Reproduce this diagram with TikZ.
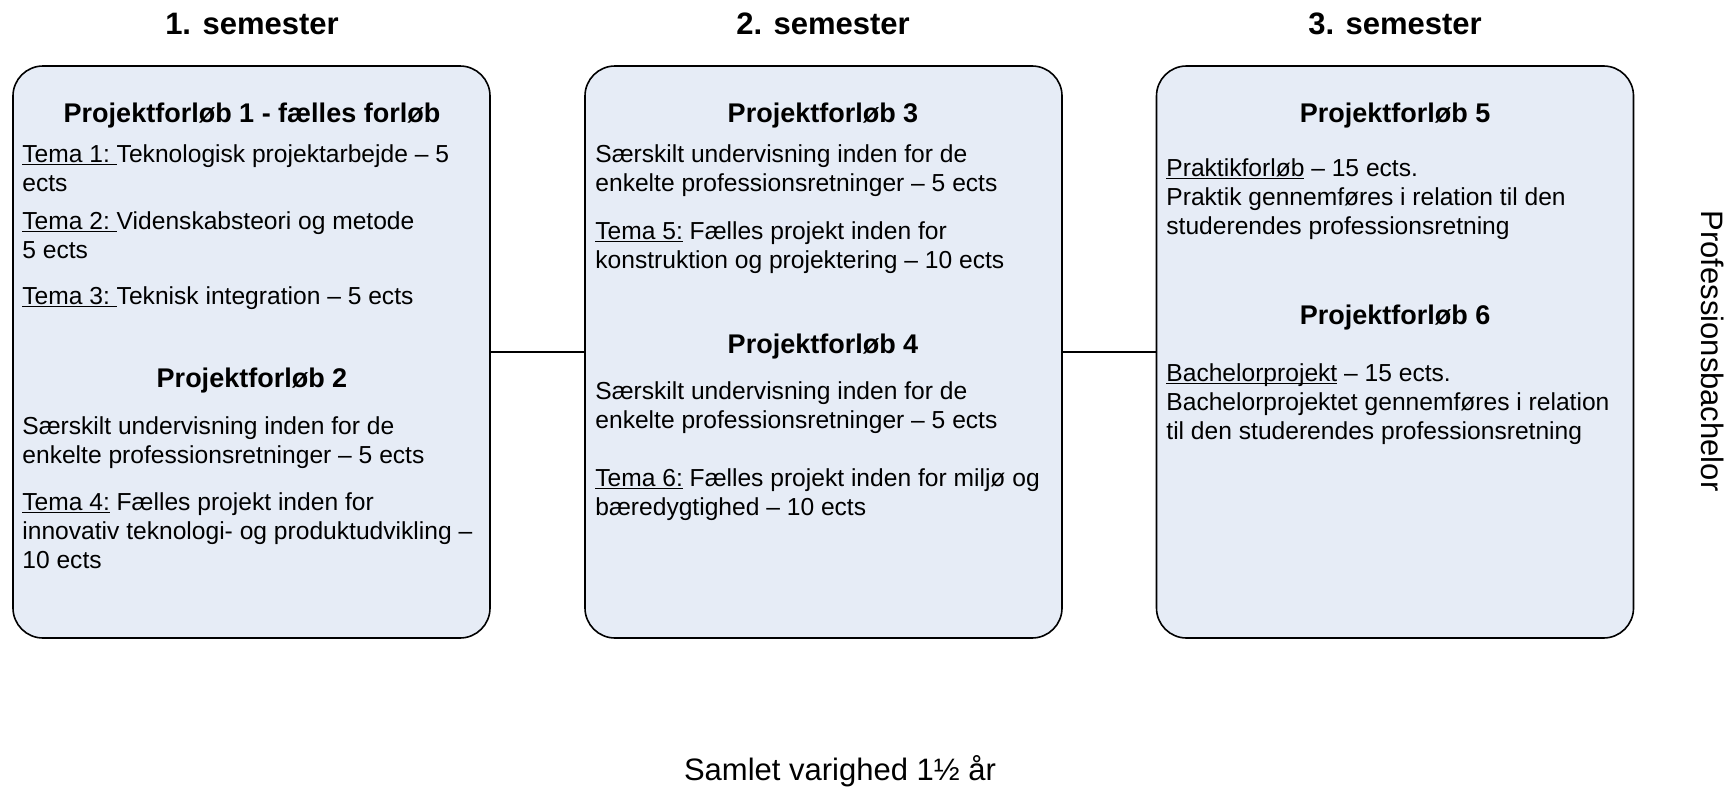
\documentclass[tikz,border=0pt]{standalone}
\usepackage{fontspec}
\setmainfont{Liberation Sans}
\definecolor{boksblaa}{HTML}{E6ECF6}
\newcommand{\understreg}[1]{\setbox0\hbox{#1}\rlap{\rule[-1.6pt]{\wd0}{0.55pt}}\box0\relax}

\begin{document}
\begin{tikzpicture}[x=0.5pt,y=-0.5pt,
    boks/.style={draw=black, line width=0.8pt, fill=boksblaa, rounded corners=15pt,
        minimum width=238.5pt, minimum height=286pt, inner sep=0pt},
    semester/.style={font=\fontsize{15.5}{18}\selectfont\bfseries, anchor=base},
    forloeb/.style={font=\fontsize{13.5}{16}\selectfont\bfseries, anchor=base},
    tekst/.style={font=\fontsize{12.3}{14.5}\selectfont, anchor=base west, align=left, inner sep=0pt},
    stor/.style={font=\fontsize{15.5}{18}\selectfont}]

\useasboundingbox (0,0) rectangle (1733,787);

%semestre

\node[semester] (sem1) at (252,34) {1. semester};
\node[semester] (sem2) at (823,34) {2. semester};
\node[semester] (sem3) at (1395,34) {3. semester};

%bokse og forbindelser

\node[boks] (boks1) at (251.5,352) {};
\node[boks] (boks2) at (823.5,352) {};
\node[boks] (boks3) at (1395,352) {};
\draw[line width=0.8pt] (boks1.east)--(boks2.west);
\draw[line width=0.8pt] (boks2.east)--(boks3.west);

%1. semester (y = sidste linjes grundlinje)

\node[forloeb] (pf1) at (252,122) {Projektforløb 1 - fælles forløb};
\node[tekst] (tema1) at (22,191) {\understreg{Tema 1:\ }Teknologisk projektarbejde – 5\\ects};
\node[tekst] (tema2) at (22,258) {\understreg{Tema 2:\ }Videnskabsteori og metode\\5 ects};
\node[tekst] (tema3) at (22,304) {\understreg{Tema 3:\ }Teknisk integration – 5 ects};
\node[forloeb] (pf2) at (252,387) {Projektforløb 2};
\node[tekst] (saer2) at (22,463) {Særskilt undervisning inden for de\\enkelte professionsretninger – 5 ects};
\node[tekst] (tema4) at (22,568) {\understreg{Tema 4:} Fælles projekt inden for\\innovativ teknologi- og produktudvikling –\\10 ects};

%2. semester

\node[forloeb] (pf3) at (823,122) {Projektforløb 3};
\node[tekst] (saer3) at (595,191) {Særskilt undervisning inden for de\\enkelte professionsretninger – 5 ects};
\node[tekst] (tema5) at (595,268) {\understreg{Tema 5:} Fælles projekt inden for\\konstruktion og projektering – 10 ects};
\node[forloeb] (pf4) at (823,353) {Projektforløb 4};
\node[tekst] (saer4) at (595,428) {Særskilt undervisning inden for de\\enkelte professionsretninger – 5 ects};
\node[tekst] (tema6) at (595,515) {\understreg{Tema 6:} Fælles projekt inden for miljø og\\bæredygtighed – 10 ects};

%3. semester

\node[forloeb] (pf5) at (1395,122) {Projektforløb 5};
\node[tekst] (praktik) at (1166,234) {\understreg{Praktikforløb} – 15 ects.\\Praktik gennemføres i relation til den\\studerendes professionsretning};
\node[forloeb] (pf6) at (1395,324) {Projektforløb 6};
\node[tekst] (bachelor) at (1166,439) {\understreg{Bachelorprojekt} – 15 ects.\\Bachelorprojektet gennemføres i relation\\til den studerendes professionsretning};

%øvrige tekster

\node[stor, rotate=-90] (prof) at (1713,351) {Professionsbachelor};
\node[stor, anchor=base] (varighed) at (840,780) {Samlet varighed 1½ år};
\end{tikzpicture}
\end{document}
